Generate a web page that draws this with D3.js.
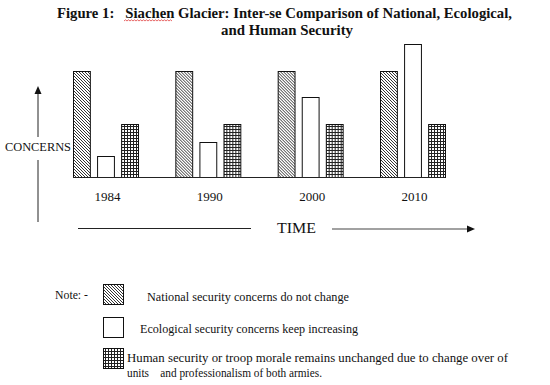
<!DOCTYPE html>
<html><head><meta charset="utf-8">
<script src="https://cdn.jsdelivr.net/npm/d3@7"></script>
<style>body{margin:0;background:#fff}svg{display:block}</style>
</head><body>
<script>
const years = ["1984","1990","2000","2010"];
const seriesKeys = ["National","Ecological","Human"];
const nationalValues = [4, 4, 4, 4];
const ecologicalValues = [0.8, 1.3, 3, 5];
const humanValues = [2, 2, 2, 2];
const titleLines = ["Figure 1:   Siachen Glacier: Inter-se Comparison of National, Ecological,", "and Human Security"];
const legendLabels = [
  ["National security concerns do not change"],
  ["Ecological security concerns keep increasing"],
  ["Human security or troop morale remains unchanged due to change over of", "units    and professionalism of both armies."]
];

const W = 550, H = 385;
const svg = d3.select("body").append("svg").attr("width", W).attr("height", H);
const defs = svg.append("defs");

// patterns
const pd = defs.append("pattern").attr("id","diag").attr("patternUnits","userSpaceOnUse")
  .attr("width",3).attr("height",3);
pd.append("rect").attr("width",3).attr("height",3).attr("fill","#fff");
pd.append("path").attr("d","M-1,-1 L4,4 M-1,2 L1,4 M2,-1 L4,1").attr("stroke","#333").attr("stroke-width",1);

const pg = defs.append("pattern").attr("id","grid").attr("patternUnits","userSpaceOnUse")
  .attr("width",3).attr("height",3);
pg.append("rect").attr("width",3).attr("height",3).attr("fill","#fff");
pg.append("path").attr("d","M0,0.5 H3 M0.5,0 V3").attr("stroke","#222").attr("stroke-width",1);

const fills = {National:"url(#diag)", Ecological:"#fff", Human:"url(#grid)"};

const data = years.map((y,i)=>({year:y, National:nationalValues[i], Ecological:ecologicalValues[i], Human:humanValues[i]}));

const x0 = d3.scaleBand().domain(years).range([73, 445]).paddingInner(0.365).paddingOuter(0);
const x1 = d3.scaleBand().domain(seriesKeys).range([0, x0.bandwidth()]).paddingInner(0.3);
const y = d3.scaleLinear().domain([0,5]).range([177, 44]);

// title
const serif = "'Liberation Serif','DejaVu Serif',serif";
svg.append("text").attr("x",57).attr("y",18).attr("font-family",serif).attr("font-weight","bold")
  .attr("font-size",15).attr("fill","#111").attr("textLength",455).attr("lengthAdjust","spacingAndGlyphs")
  .style("white-space","pre").text(titleLines[0]);
svg.append("text").attr("x",287).attr("y",35).attr("text-anchor","middle").attr("font-family",serif).attr("font-weight","bold")
  .attr("font-size",15).attr("fill","#111").attr("textLength",132).attr("lengthAdjust","spacingAndGlyphs")
  .text(titleLines[1]);
// spell-check squiggle under "Siachen"
let sq = "M124,21";
for (let xx = 125.5, k = 0; xx <= 173; xx += 1.5, k++) sq += ` L${xx},${k%2===0?19.8:21}`;
svg.append("path").attr("d",sq).attr("fill","none").attr("stroke","#e04040").attr("stroke-width",0.8);

// bars
const g = svg.append("g");
const groups = g.selectAll("g.grp").data(data).join("g").attr("class","grp")
  .attr("transform", d=>`translate(${x0(d.year)},0)`);
groups.selectAll("rect").data(d=>seriesKeys.map(k=>({key:k, value:d[k]}))).join("rect")
  .attr("x", d=>x1(d.key)+0.5).attr("y", d=>Math.round(y(d.value))+0.5)
  .attr("width", x1.bandwidth()).attr("height", d=>y(0)-Math.round(y(d.value)))
  .attr("fill", d=>fills[d.key]).attr("stroke","#111").attr("stroke-width",1);

// baseline
svg.append("line").attr("x1",x0.range()[0]).attr("x2",x0.range()[1]).attr("y1",y(0)+0.5).attr("y2",y(0)+0.5)
  .attr("stroke","#222").attr("stroke-width",1);

// year labels
svg.selectAll("text.yr").data(years).join("text").attr("class","yr")
  .attr("x", d=>x0(d)+x1("Ecological")+x1.bandwidth()/2+2).attr("y",201)
  .attr("text-anchor","middle").attr("font-family",serif).attr("font-size",13).attr("fill","#111").text(d=>d);

// y axis arrow (broken around label)
svg.append("line").attr("x1",38).attr("x2",38).attr("y1",92).attr("y2",137).attr("stroke","#222");
svg.append("line").attr("x1",38).attr("x2",38).attr("y1",160).attr("y2",222).attr("stroke","#222");
svg.append("path").attr("d","M38,86 L34.5,94 L41.5,94 Z").attr("fill","#111");
svg.append("text").attr("x",5).attr("y",151).attr("font-family",serif).attr("font-size",12).attr("fill","#111")
  .attr("textLength",66).attr("lengthAdjust","spacingAndGlyphs").text("CONCERNS");

// time axis
svg.append("line").attr("x1",78).attr("x2",251).attr("y1",228.5).attr("y2",228.5).attr("stroke","#222");
svg.append("text").attr("x",277).attr("y",233).attr("font-family",serif).attr("font-size",15).attr("fill","#111")
  .attr("textLength",39).attr("lengthAdjust","spacingAndGlyphs").text("TIME");
svg.append("line").attr("x1",332).attr("x2",468).attr("y1",229).attr("y2",229).attr("stroke","#444").attr("stroke-width",1.2);
svg.append("path").attr("d","M475,229 L467,225.5 L467,232.5 Z").attr("fill","#111");

// legend
svg.append("text").attr("x",55).attr("y",299).attr("font-family",serif).attr("font-size",13).attr("fill","#111")
  .attr("textLength",33).attr("lengthAdjust","spacingAndGlyphs").text("Note: -");
const legY = [284, 317, 348];
const legTextX = [147, 140, 127];
const legTextY = [301, 333, 362];
const legTextW = [[202], [218], [381, 195]];
seriesKeys.forEach((k,i)=>{
  svg.append("rect").attr("x",103.5).attr("y",legY[i]+0.5).attr("width",20).attr("height",20)
    .attr("fill",fills[k]).attr("stroke","#111");
  legendLabels[i].forEach((t,j)=>{
    svg.append("text").attr("x",legTextX[i]).attr("y",legTextY[i]+j*15)
      .attr("font-family",serif).attr("font-size",13).attr("fill","#111")
      .style("white-space","pre")
      .attr("textLength", legTextW[i][j]).attr("lengthAdjust","spacingAndGlyphs").text(t);
  });
});
</script>
</body></html>
